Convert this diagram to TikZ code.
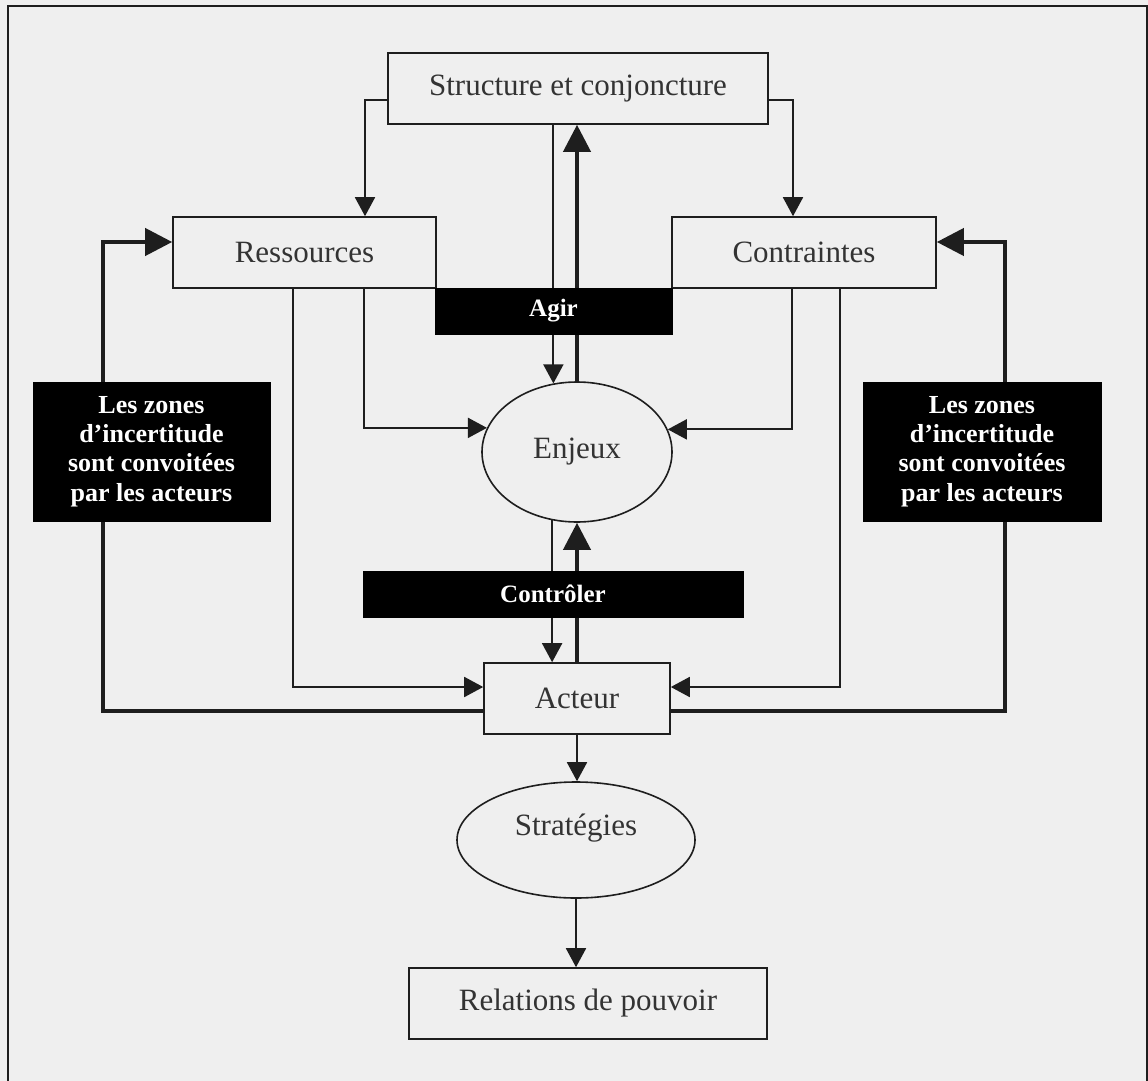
\documentclass[tikz,border=0pt]{standalone}
\usepackage{fontspec}
\setmainfont{Liberation Serif}
\usetikzlibrary{arrows.meta,shapes.geometric}
\definecolor{paper}{HTML}{EFEFEF}
\definecolor{ink}{HTML}{1E1E1E}
\definecolor{txt}{HTML}{333333}
\pgfdeclarelayer{paperlayer}
\pgfdeclarelayer{links}
\pgfsetlayers{paperlayer,links,main}
\begin{document}
\begin{tikzpicture}[x=1pt,y=-1pt,
  base/.style={draw=ink, line width=1.6pt, fill=paper, text=txt, inner sep=0pt,
    font=\fontsize{31}{36}\selectfont},
  rbox/.style={base, rectangle, minimum height=71pt},
  oval/.style={base, ellipse},
  blackbar/.style={rectangle, fill=black, draw=black, text=white, inner sep=0pt,
    minimum height=46pt, font=\bfseries\fontsize{25}{28}\selectfont},
  zonebox/.style={rectangle, fill=black, draw=black, text=white, inner sep=0pt,
    minimum width=237pt, minimum height=139pt, align=center,
    font=\bfseries\fontsize{26}{29.5}\selectfont},
  thinarrow/.style={draw=ink, line width=1.8pt, -{Triangle[width=20pt,length=19pt]}},
  thickarrow/.style={draw=ink, line width=4pt, -{Triangle[width=27pt,length=27pt]}},
  thickline/.style={draw=ink, line width=4pt, line join=miter}
]
\useasboundingbox (0,0) rectangle (1148,1081);
\begin{pgfonlayer}{paperlayer}
  \fill[paper] (0,0) rectangle (1148,1081);
  \draw[ink, line width=1.5pt] (8,1081) -- (8,6) -- (1147,6) -- (1147,1081);
\end{pgfonlayer}

% boxes and ovals
\node[rbox, minimum width=380pt] (str) at (578,88.5) {Structure et conjoncture};
\node[rbox, minimum width=263pt] (ress) at (304.5,252.5) {Ressources};
\node[rbox, minimum width=264pt] (contr) at (804,252.5) {Contraintes};
\node[oval, minimum width=190pt, minimum height=140pt] (enjeux) at (577,452) {Enjeux};
\node[blackbar, minimum width=237pt] (agir) at (553.5,311) {Agir};
\node[blackbar, minimum width=380pt] (ctrl) at (553,594) {Contrôler};
\node[rbox, minimum width=186pt] (acteur) at (577,698.5) {Acteur};
\node[oval, minimum width=238pt, minimum height=116pt] (strat) at (576,840) {};
\node[text=txt, font=\fontsize{31}{36}\selectfont] (strattxt) at ([yshift=12pt]strat.center) {Stratégies};
\node[rbox, minimum width=358pt] (rel) at (588,1003.5) {Relations de pouvoir};
\node[zonebox] (zoneL) at (151.5,451.5) {Les zones\\d’incertitude\\sont convoitées\\par les acteurs};
\node[zonebox, minimum width=238pt] (zoneR) at (982,451.5) {Les zones\\d’incertitude\\sont convoitées\\par les acteurs};

\begin{pgfonlayer}{links}
  % structure feeds resources and constraints
  \draw[thinarrow] ([yshift=-11.5pt]str.west) -| ([xshift=60.5pt]ress.north);
  \draw[thinarrow] ([yshift=-11.5pt]str.east) -| ([xshift=-11pt]contr.north);
  % acting: structure <-> stakes
  \draw[thinarrow] (enjeux.109.5 |- str.south) -- (enjeux.109.5);
  \draw[thickarrow] (enjeux.north) -- (enjeux.north |- str.south);
  % resources and constraints towards the stakes
  \draw[thinarrow] ([xshift=59.5pt]ress.south) |- (enjeux.165.5);
  \draw[thinarrow] ([xshift=-12pt]contr.south) |- (enjeux.14.5);
  % resources and constraints towards the actor
  \draw[thinarrow] ([xshift=-11.5pt]ress.south) |- ([yshift=11.5pt]acteur.west);
  \draw[thinarrow] ([xshift=36pt]contr.south) |- ([yshift=11.5pt]acteur.east);
  % controlling: stakes <-> actor
  \draw[thinarrow] (enjeux.250.5) -- (enjeux.250.5 |- acteur.north);
  \draw[thickarrow] (acteur.north) -- (acteur.north |- enjeux.south);
  % uncertainty zones
  \draw[thickarrow] ([xshift=-48.5pt]zoneL.north) |- ([yshift=10.5pt]ress.west);
  \draw[thickarrow] ([xshift=23pt]zoneR.north) |- ([yshift=10.5pt]contr.east);
  \draw[thickline] ([xshift=-48.5pt]zoneL.south) |- ([yshift=-12.5pt]acteur.west);
  \draw[thickline] ([xshift=23pt]zoneR.south) |- ([yshift=-12.5pt]acteur.east);
  % actor -> strategies -> power relations
  \draw[thinarrow] (acteur.south) -- (acteur.south |- strat.north);
  \draw[thinarrow] (strat.south) -- (strat.south |- rel.north);
\end{pgfonlayer}
\end{tikzpicture}
\end{document}
